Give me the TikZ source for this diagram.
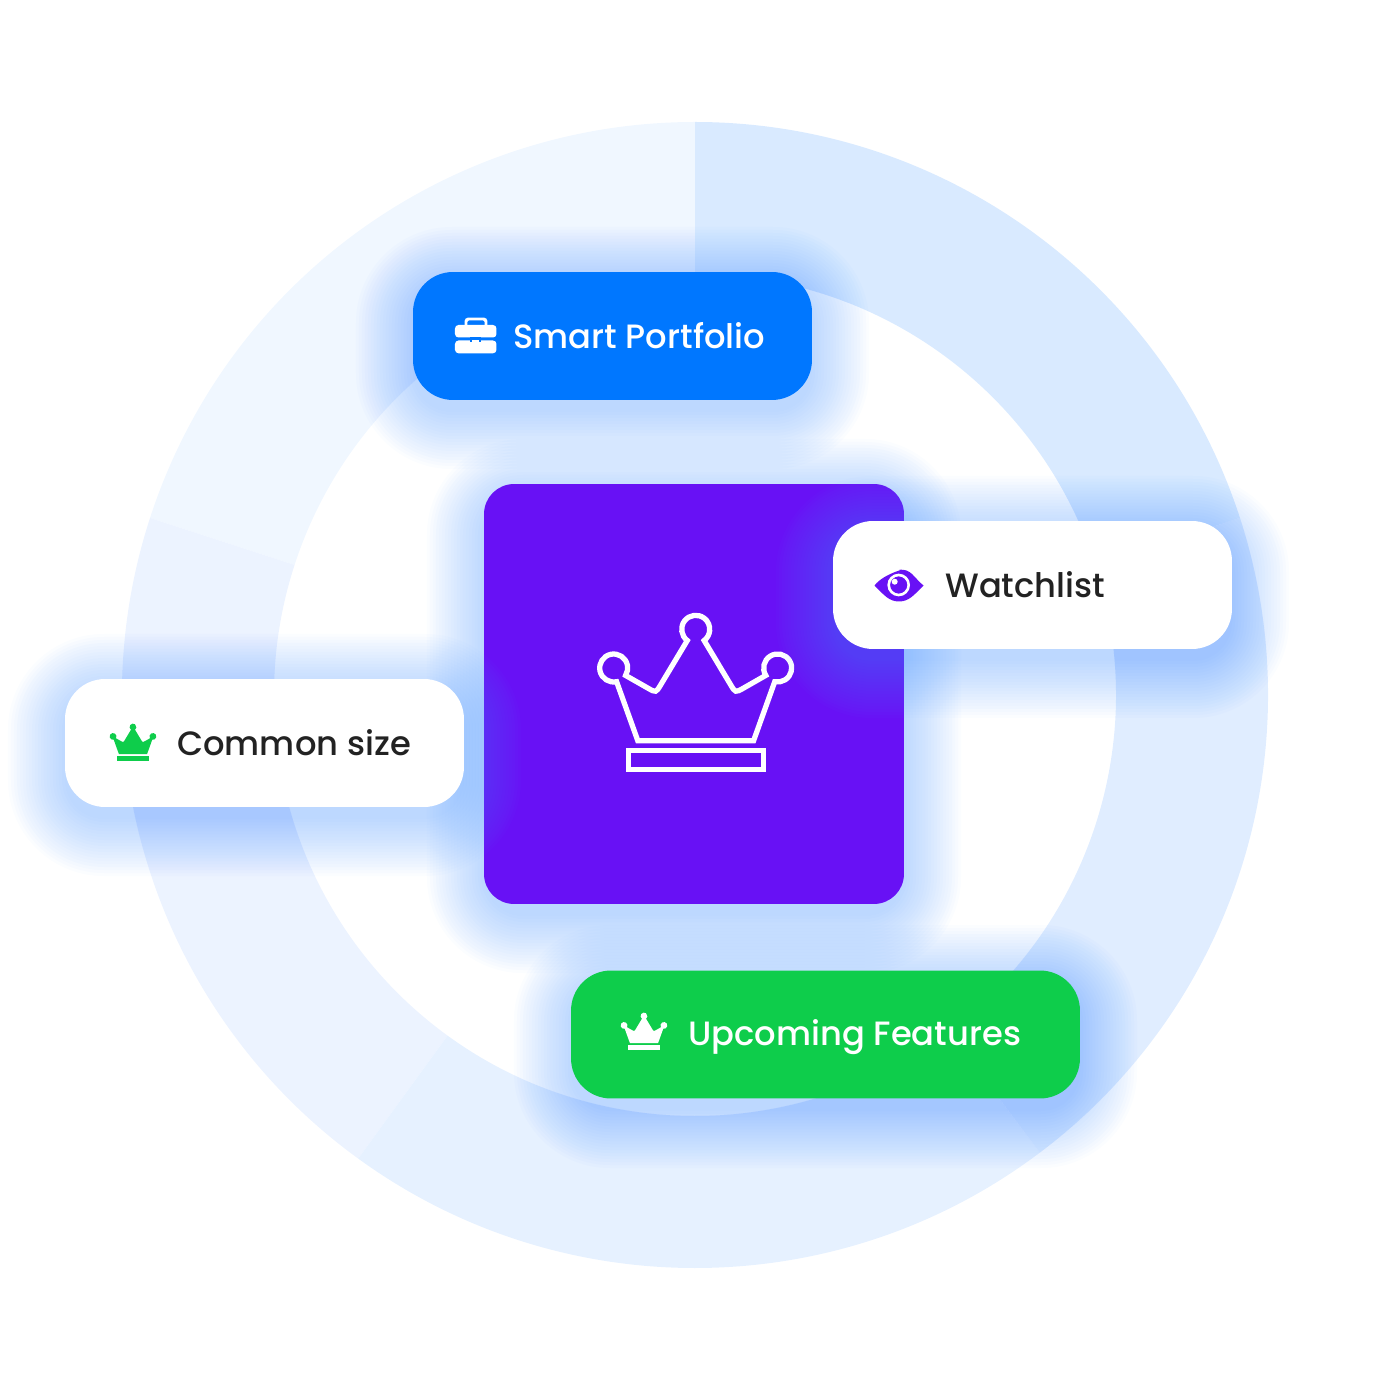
\documentclass[tikz,border=0pt]{standalone}
\usepackage{fontspec}
\usepackage{tikz}
\setmainfont{Poppins Medium}
\definecolor{ringa}{HTML}{F0F7FF}
\definecolor{ringb}{HTML}{D9EAFF}
\definecolor{ringc}{HTML}{E0EDFF}
\definecolor{ringd}{HTML}{E6F1FF}
\definecolor{ringe}{HTML}{ECF3FF}
\definecolor{brandblue}{HTML}{0077FF}
\definecolor{brandgreen}{HTML}{0ECD4B}
\definecolor{brandpurple}{HTML}{6811F5}
\definecolor{inkdark}{HTML}{222222}
\definecolor{haze}{HTML}{4F97FF}
\newcommand{\softshadow}[4]{% centre x, centre y, half width, half height
  \foreach \i in {0,...,19} {
    \pgfmathsetmacro{\grow}{57-3*\i}
    \fill[haze, fill opacity=0.022, rounded corners=22pt+\grow*0.569pt]
      (#1-#3-\grow,#2-#4-\grow-12) rectangle (#1+#3+\grow,#2+#4+\grow-12);
  }
}
\begin{document}
\begin{tikzpicture}[x=0.02cm,y=0.02cm,
  card/.style={rounded corners=0.8cm,minimum width=7.98cm,minimum height=2.56cm,inner sep=0pt},
  label_node/.style={anchor=base west,font=\fontsize{19.2}{23}\selectfont,inner sep=0pt},
  crown/.pic={
    \path[pic actions] (-79.1,13.3) arc[start angle=-78,end angle=-392,radius=14]
      -- (-47.5,6.7) .. controls (-39.7,2.3) .. (-35.1,10)
      -- (-8.4,54.5) arc[start angle=233,end angle=-53,radius=14]
      -- (35.1,10) .. controls (39.7,2.3) .. (47.5,6.7)
      -- (70.1,19.6) arc[start angle=212,end angle=-102,radius=14]
      -- (57.9,-45.7) -- (-57.9,-45.7) -- cycle;
    \path[pic actions] (-67.5,-55.2) rectangle (67.5,-74.8);
  }]
    \useasboundingbox (-695,-694) rectangle (694,695);
    % ring
    \foreach \from/\to/\col in {90/162/ringa,162/234/ringe,234/307/ringd,307/378/ringc,378/450/ringb} {
        \fill[\col] (\from:573) arc[start angle=\from,end angle=\to,radius=573]
            -- (\to:421) arc[start angle=\to,end angle=\from,radius=421] -- cycle;
    }
    % centre square
    \softshadow{-1}{1}{210}{210}
    \node[fill=brandpurple,rounded corners=0.6cm,minimum width=8.4cm,minimum height=8.4cm,inner sep=0pt] (square) at (-1,1) {};
    \pic[draw=white,line width=3pt,fill=none,xshift=0.014cm] at (0,0) {crown};
    % cards
    \softshadow{-82.5}{359}{199.5}{64}
    \node[card,fill=brandblue] (portfolio) at (-82.5,359) {};
    \softshadow{337.5}{110}{199.5}{64}
    \node[card,fill=white] (watchlist) at (337.5,110) {};
    \softshadow{-430.5}{-48}{199.5}{64}
    \node[card,fill=white] (common) at (-430.5,-48) {};
    \softshadow{130.5}{-339.5}{254.5}{64.5}
    \node[card,fill=brandgreen,minimum width=10.18cm] (upcoming) at (130.5,-339.5) {};
    % labels
    \node[label_node,text=white] (portfoliotext) at (-182,346) {Smart Portfolio};
    \node[label_node,text=inkdark] (watchlisttext) at (250,97) {Watchlist};
    \node[label_node,text=inkdark] (commontext) at (-518,-61) {Common size};
    \node[label_node,text=white] (upcomingtext) at (-7,-350) {Upcoming Features};
    % icons
    \pic[fill=brandgreen,scale=0.243] at (-562,-48) {crown};
    \pic[fill=white,scale=0.243] at (-51,-337) {crown};
    \fill[white,rounded corners=2pt] (-240,370) rectangle (-198.5,357.5);
    \fill[white,rounded corners=2pt] (-240,354.5) rectangle (-198.5,341.7);
    \fill[white] (-224,354.5) rectangle (-214.5,352);
    \draw[white,line width=1.7pt,rounded corners=1.5pt] (-229,369) -- (-229,376) -- (-209,376) -- (-209,369);
    \fill[brandblue] (-224.5,357.5) rectangle (-214,352.5);
    \fill[white] (-223,354.5) rectangle (-215.5,352.5);
    \fill[brandpurple] (-820+0,0) ;
    \fill[brandpurple] (179.5,109.5) .. controls (190,123) and (216,127) .. (204,125) .. controls (216,127) and (219,117) .. (228.5,109.5)
        .. controls (219,100) and (214,93.5) .. (204,93.5) .. controls (194,93.5) and (189,100) .. (179.5,109.5) -- cycle;
    \draw[white,line width=1.5pt] (203.7,110) circle (10);
    \fill[white] (199.7,113.3) circle (3);
\end{tikzpicture}
\end{document}
